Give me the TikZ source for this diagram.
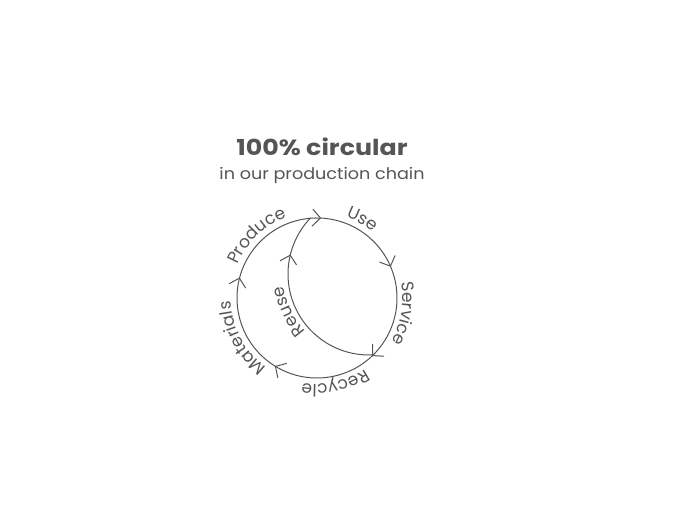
\documentclass[tikz,border=0pt]{standalone}
\usepackage{fontspec}
\setmainfont{Poppins}
\newfontfamily\stagefont{Poppins}
\usetikzlibrary{
  arrows.meta, % for the Straight Barb tips on the loop
  decorations.markings, % to put the tips part way along the arcs
  decorations.text, % to bend the stage names round the loop
  positioning,
}
\definecolor{ink}{HTML}{555555}
\newcommand\stagesize{\stagefont\fontsize{17pt}{17pt}\selectfont}
\tikzset{
  flow/.tip={Straight Barb[length=8pt,width=17pt]}, % open chevron tip
  loop/.style={ % style for the big circle and the inner arc
    draw,color=ink, % same grey as the text
    line width=1pt, % thin line
  },
  stage/.style={ % style for the stage names
    decorate,
    decoration={text along path,text align=center,text color=ink,
      text={|\stagesize|#1}},
  },
}

\begin{document}
\begin{tikzpicture}[x=1pt,y=1pt]
	\useasboundingbox (0,0) rectangle (680,510);
	
	\node (title) at (322,354) [anchor=base,text=ink,font=\bfseries\fontsize{22pt}{26pt}\selectfont] {\scalebox{1.15}[1]{100\% circular}};
	
	\node (sub) at ([yshift=-24pt]title.base) [anchor=base,text=ink,font=\fontsize{16pt}{19pt}\selectfont] {\scalebox{1.1}[1]{in our production chain}};
	
	\coordinate (hub) at (317,212);
	\coordinate (hubr) at (369,236);
	\path (hubr) ++(272:81) coordinate (j1);
	
	% the big loop, clockwise
	\draw[loop,postaction={decorate},decoration={markings,
			mark=at position 0.036 with {\arrow{flow}},
			mark=at position 0.214 with {\arrow{flow}},
			mark=at position 0.407 with {\arrow{flow}},
			mark=at position 0.616 with {\arrow{flow}},
			mark=at position 0.819 with {\arrow{flow}}}]
		(hub) ++(100:80) arc[start angle=100,end angle=-260,radius=80];
	
	% reuse shortcut
	\draw[loop,postaction={decorate},decoration={markings,
			mark=at position 0.779 with {\arrow{flow}}}]
		(j1) arc[start angle=272,end angle=136,radius=81];
	
	\path[stage=Produce] (hub) ++(169:86) arc[start angle=169,end angle=99,radius=86];
	\path[stage=Use] (hub) ++(95:86) arc[start angle=95,end angle=25,radius=86];
	\path[stage=Service] (hub) ++(25:86) arc[start angle=25,end angle=-45,radius=86];
	\path[stage=Recycle] (hub) ++(-43:86) arc[start angle=-43,end angle=-113,radius=86];
	\path[stage=Materials] (hub) ++(243:86) arc[start angle=243,end angle=173,radius=86];
	\path[stage=Reuse] (hubr) ++(240:86) arc[start angle=240,end angle=170,radius=86];
\end{tikzpicture}
\end{document}
